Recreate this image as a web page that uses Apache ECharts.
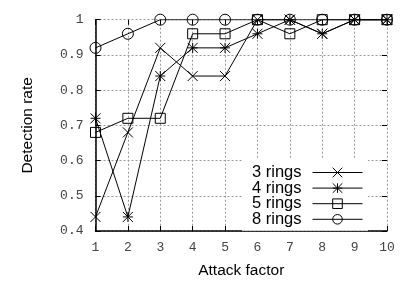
<!DOCTYPE html>
<html>
<head>
<meta charset="utf-8">
<script src="https://cdn.jsdelivr.net/npm/echarts@6/dist/echarts.min.js"></script>
<style>
  html, body { margin: 0; padding: 0; background: #fff; }
  #chart { width: 405px; height: 284px; }
</style>
</head>
<body>
<div id="chart"></div>
<script>
// attack factor on x
const attackFactor = [1, 2, 3, 4, 5, 6, 7, 8, 9, 10]
const rings3 = [0.44, 0.68, 0.92, 0.84, 0.84, 1, 1, 0.96, 1, 1]
const rings4 = [0.72, 0.44, 0.84, 0.92, 0.92, 0.96, 1, 0.96, 1, 1]
const rings5 = [0.68, 0.72, 0.72, 0.96, 0.96, 1, 0.96, 1, 1, 1]
const rings8 = [0.92, 0.96, 1, 1, 1, 1, 1, 1, 1, 1]
const seriesNames = ['3 rings', '4 rings', '5 rings', '8 rings']

const monoFont = '"Liberation Mono", "DejaVu Sans Mono", monospace'
const sansFont = '"Liberation Sans", Arial, sans-serif'

const crossPath = 'path://M0,0L10,10M10,0L0,10'
const starPath = 'path://M0,0L10,10M10,0L0,10M5,0L5,10M0,5L10,5'

function pairs(ys) {
  return attackFactor.map((x, i) => [x, ys[i]])
}

function makeSeries(name, ys, symbol, size) {
  return {
    name: name,
    type: 'line',
    data: pairs(ys),
    symbol: symbol,
    symbolSize: size,
    showAllSymbol: true,
    lineStyle: { color: '#000', width: 1 },
    itemStyle: { color: 'transparent', borderColor: '#000', borderWidth: 1 },
    emphasis: { disabled: true },
    animation: false,
    z: 3
  }
}

const chart = echarts.init(document.getElementById('chart'))
chart.setOption({
  backgroundColor: '#fff',
  animation: false,
  grid: { left: 95.5, right: 18, top: 19.7, bottom: 53 },
  legend: {
    data: seriesNames,
    orient: 'vertical',
    right: 37,
    top: 159,
    align: 'right',
    padding: [5, 5, 3, 10],
    itemGap: -1.4,
    itemWidth: 50,
    itemHeight: 12,
    backgroundColor: '#fff',
    lineStyle: { width: 1, color: '#000' },
    itemStyle: { borderWidth: 1, borderColor: '#000', color: 'transparent' },
    textStyle: { fontFamily: sansFont, fontSize: 16.5, color: '#000', lineHeight: 14, padding: [0, 6, 0, 0] },
    selectedMode: false,
    z: 10
  },
  xAxis: [{
    type: 'value',
    min: 1,
    max: 10,
    interval: 1,
    name: 'Attack factor',
    nameLocation: 'middle',
    nameGap: 32,
    nameTextStyle: { fontFamily: sansFont, fontSize: 15.5, color: '#000' },
    axisLine: { show: true, onZero: false, lineStyle: { color: '#000', width: 1.5 } },
    axisTick: { show: true, inside: true, length: 5, lineStyle: { color: '#000' } },
    axisLabel: { fontFamily: monoFont, fontSize: 13, color: '#444', margin: 10 },
    splitLine: { show: true, lineStyle: { color: '#999', type: [2, 2], width: 1 } }
  }, {
    type: 'value',
    position: 'top',
    min: 1,
    max: 10,
    interval: 1,
    axisLine: { show: false },
    axisTick: { show: true, inside: true, length: 5, lineStyle: { color: '#000' } },
    axisLabel: { show: false },
    splitLine: { show: false }
  }],
  yAxis: [{
    type: 'value',
    min: 0.4,
    max: 1,
    interval: 0.1,
    name: 'Detection rate',
    nameLocation: 'middle',
    nameGap: 60,
    nameTextStyle: { fontFamily: sansFont, fontSize: 15.5, color: '#000' },
    axisLine: { show: true, onZero: false, lineStyle: { color: '#000', width: 1.5 } },
    axisTick: { show: true, inside: true, length: 5, lineStyle: { color: '#000' } },
    axisLabel: {
      fontFamily: monoFont, fontSize: 13, color: '#444', margin: 12,
      formatter: (v) => (v >= 0.999 ? '1' : v.toFixed(1))
    },
    splitLine: { show: true, lineStyle: { color: '#999', type: [2, 2], width: 1 } }
  }, {
    type: 'value',
    position: 'right',
    min: 0.4,
    max: 1,
    interval: 0.1,
    axisLine: { show: false },
    axisTick: { show: true, inside: true, length: 5, lineStyle: { color: '#000' } },
    axisLabel: { show: false },
    splitLine: { show: false }
  }],
  series: [
    makeSeries('3 rings', rings3, crossPath, 10),
    makeSeries('4 rings', rings4, starPath, 10),
    makeSeries('5 rings', rings5, 'rect', 10),
    makeSeries('8 rings', rings8, 'circle', 11)
  ]
})
</script>
</body>
</html>
